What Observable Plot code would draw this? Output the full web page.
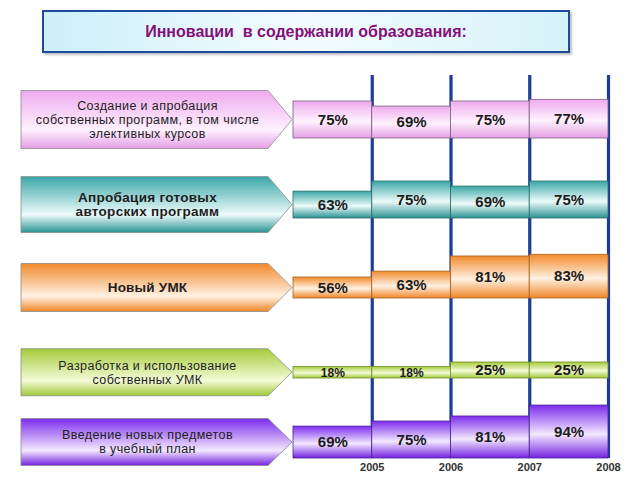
<!DOCTYPE html>
<html>
<head>
<meta charset="utf-8">
<script src="https://cdn.jsdelivr.net/npm/d3@7"></script>
<script src="https://cdn.jsdelivr.net/npm/@observablehq/plot@0.6"></script>
<style>
  html, body { margin: 0; padding: 0; background: #fff; }
  #title-wrap { position: relative; width: 640px; height: 75px; }
  #title {
    position: absolute; left: 42px; top: 10px; width: 524px; height: 39px;
    border: 2px solid #1d4b9e;
    background: linear-gradient(to right, #cdeff8 0%, #f3fcff 50%, #d6f2f9 100%);
    box-shadow: 2px 2px 2px rgba(0,0,0,0.25);
    display: flex; align-items: center; justify-content: center;
    font: bold 16px "Liberation Sans", Arial, sans-serif; color: #85107a;
    white-space: pre;
  }
  #chart svg { display: block; overflow: hidden; }
</style>
</head>
<body>
<div id="title-wrap"><div id="title">Инновации  в содержании образования:</div></div>
<div id="chart"></div>
<script>
// ---- data ----
const rowKeys = [
  "Создание и апробация собственных программ, в том числе элективных курсов",
  "Апробация готовых авторских программ",
  "Новый УМК",
  "Разработка и использование собственных УМК",
  "Введение новых предметов в учебный план"
];
const rowLines = [
  ["Создание и апробация", "собственных программ, в том числе", "элективных курсов"],
  ["Апробация готовых", "авторских программ"],
  ["Новый УМК"],
  ["Разработка и использование", "собственных УМК"],
  ["Введение новых предметов", "в учебный план"]
];
const years = [2005, 2006, 2007, 2008];
const periodStart = [2004, 2005, 2006, 2007];
const sozdanie = [75, 69, 75, 77];
const aprobaciya = [63, 75, 69, 75];
const novyiUMK = [56, 63, 81, 83];
const razrabotka = [18, 18, 25, 25];
const vvedenie = [69, 75, 81, 94];
const series = [sozdanie, aprobaciya, novyiUMK, razrabotka, vvedenie];

// ---- styles ----
const grads = [
  ["#eeaaee", "#fff2ff", "#e49ee4"],
  ["#3aa7a7", "#eefafa", "#2a9393"],
  ["#f28a2c", "#fff1e2", "#f08628"],
  ["#a6cc3a", "#f4fad8", "#a2c836"],
  ["#7c2cec", "#f3e8ff", "#7422e0"]
];
const strokes = ["#7d5f7d", "#2b6d6d", "#a5621f", "#6f8f2a", "#4a2298"];
const labelWeight = ["normal", "bold", "bold", "normal", "normal"];
const labelSize = [12.5, 13.5, 13.5, 12.5, 12.5];
const labelSpacing = [0.4, 0.3, 0.2, 0.4, 0.4];
const arrowHeights = [58, 56, 48, 47, 47];

// ---- table ----
const table = [];
rowKeys.forEach((row, ri) => {
  series[ri].forEach((v, i) => {
    table.push({row, ri, start: periodStart[i], end: years[i], value: v});
  });
});

// piecewise vertical scale inside each row band (band height 80)
const yDomain = [0, 25, 56, 100];
const yRange = [80, 64, 59, 22];
const fyRange = [-17, 383];
const yPix = d3.scaleLinear().domain(yDomain).range(yRange);
const mid = v => yPix.invert((yPix(0) + yPix(v)) / 2);

const chart = Plot.plot({
  width: 640,
  height: 405,
  marginTop: 0,
  marginBottom: 22,
  marginLeft: 293,
  marginRight: 32,
  style: {fontFamily: "'Liberation Sans', Arial, sans-serif", fontSize: "11px", fontWeight: "bold", color: "#333", overflow: "hidden", background: "white"},
  x: {type: "linear", domain: [2004, 2008], ticks: years, tickFormat: d => String(d), tickSize: 0, tickPadding: 5, label: null},
  y: {type: "linear", domain: yDomain, range: yRange, axis: null},
  fy: {domain: rowKeys, range: fyRange, padding: 0, axis: null},
  color: {type: "identity"},
  facet: {data: table, y: "row"},
  marks: [
    Plot.ruleX(years, {x: d => d, stroke: "#1b3d99", strokeWidth: 3.2}),
    Plot.rect(table, {
      x1: "start", x2: "end", y1: 0, y2: "value",
      fill: d => `url(#bar${d.ri})`,
      stroke: d => strokes[d.ri], strokeWidth: 0.8
    }),
    Plot.text(table, {
      x: d => (d.start + d.end) / 2,
      y: d => mid(d.value),
      text: d => d.value + "%",
      fontSize: d => d.value < 20 ? 12 : 15,
      fontWeight: "bold",
      fill: "#1c1c1c"
    })
  ]
});

// gradients
const svg = d3.select(chart);
const defs = svg.insert("defs", ":first-child");
grads.forEach((g, i) => {
  const bar = defs.append("linearGradient").attr("id", `bar${i}`).attr("x1", 0).attr("y1", 0).attr("x2", 0).attr("y2", 1);
  bar.append("stop").attr("offset", "0%").attr("stop-color", g[0]);
  bar.append("stop").attr("offset", "55%").attr("stop-color", g[1]);
  bar.append("stop").attr("offset", "100%").attr("stop-color", g[2]);
  const arr = defs.append("linearGradient").attr("id", `arr${i}`).attr("x1", 0).attr("y1", 0).attr("x2", 0).attr("y2", 1);
  arr.append("stop").attr("offset", "0%").attr("stop-color", g[0]);
  arr.append("stop").attr("offset", "68%").attr("stop-color", g[1]);
  arr.append("stop").attr("offset", "100%").attr("stop-color", g[2]);
});

// arrow-shaped row labels, placed with the same band / row scales as the bars
const fyScale = d3.scaleBand().domain(rowKeys).range(fyRange).padding(0);
const xScale = d3.scaleLinear().domain([2004, 2008]).range([293, 608]);
const arrows = svg.insert("g", "defs + *").attr("aria-label", "row labels");
rowKeys.forEach((row, ri) => {
  const cy = fyScale(row) + (yPix(0) + yPix(series[ri][0])) / 2;
  const h = arrowHeights[ri];
  const left = 21, tip = xScale(2004) - 1, body = tip - 24;
  const pts = [[left, cy - h / 2], [body, cy - h / 2], [tip, cy], [body, cy + h / 2], [left, cy + h / 2]];
  arrows.append("path")
    .attr("d", "M" + pts.map(p => p.join(",")).join("L") + "Z")
    .attr("fill", `url(#arr${ri})`)
    .attr("stroke", "#8c8c8c").attr("stroke-width", 0.8);
  const lines = rowLines[ri];
  const lh = 14;
  const t = arrows.append("text")
    .attr("text-anchor", "middle")
    .attr("font-size", labelSize[ri])
    .attr("font-weight", labelWeight[ri])
    .attr("letter-spacing", labelSpacing[ri])
    .attr("fill", "#1e1e1e");
  lines.forEach((ln, k) => {
    t.append("tspan")
      .attr("x", (left + body) / 2 + 3)
      .attr("y", cy + (k - (lines.length - 1) / 2) * lh)
      .attr("dy", "0.35em")
      .text(ln);
  });
});

document.getElementById("chart").appendChild(chart);
</script>
</body>
</html>
